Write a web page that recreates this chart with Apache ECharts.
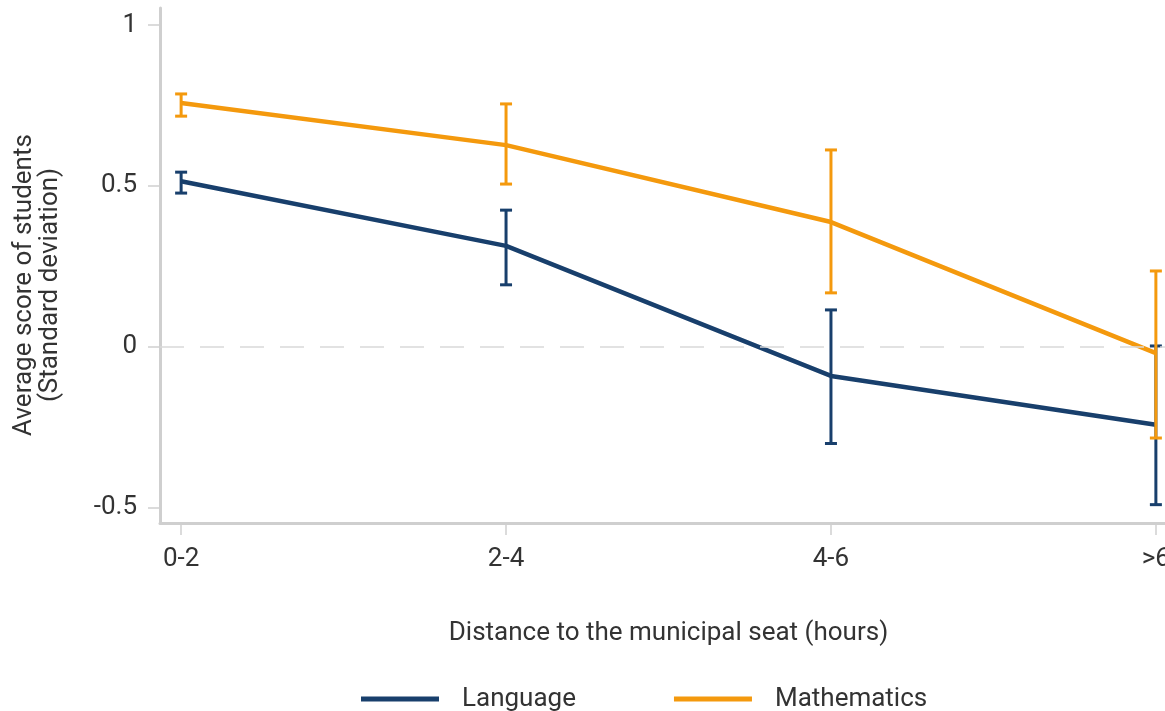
<!DOCTYPE html>
<html>
<head>
<meta charset="utf-8">
<script src="https://cdn.jsdelivr.net/npm/echarts@6/dist/echarts.min.js"></script>
<style>html,body{margin:0;padding:0;background:#fff;}#c{width:1165px;height:711px;}</style>
</head>
<body>
<div id="c"></div>
<script>
var categories = ['0-2', '2-4', '4-6', '>6'];
var languageMean = [0.515, 0.314, -0.09, -0.242];
var languageLow = [0.478, 0.193, -0.30, -0.49];
var languageHigh = [0.543, 0.425, 0.115, 0.003];
var mathMean = [0.758, 0.627, 0.388, -0.019];
var mathLow = [0.717, 0.506, 0.168, -0.283];
var mathHigh = [0.786, 0.755, 0.612, 0.236];
var yTicks = [-0.5, 0, 0.5, 1];

var navy = '#183f6c';
var orange = '#f4990d';
var font = 'Roboto';

function pts(vals) { return vals.map(function (v, i) { return [i, v]; }); }
function errs(lo, hi) { return lo.map(function (v, i) { return [i, v, hi[i]]; }); }

function errRender(color) {
  return function (params, api) {
    var x = api.value(0);
    var p1 = api.coord([x, api.value(1)]);
    var p2 = api.coord([x, api.value(2)]);
    var hw = 6;
    var st = { stroke: color, lineWidth: 3 };
    return {
      type: 'group',
      children: [
        { type: 'line', shape: { x1: p1[0], y1: p1[1], x2: p2[0], y2: p2[1] }, style: st },
        { type: 'line', shape: { x1: p1[0] - hw, y1: p1[1], x2: p1[0] + hw, y2: p1[1] }, style: st },
        { type: 'line', shape: { x1: p2[0] - hw, y1: p2[1], x2: p2[0] + hw, y2: p2[1] }, style: st }
      ]
    };
  };
}

var chart = echarts.init(document.getElementById('c'), null, { renderer: 'canvas' });
chart.setOption({
  animation: false,
  backgroundColor: '#fff',
  textStyle: { fontFamily: font },
  grid: { left: 160, top: 8, bottom: 188, width: 1017, containLabel: false, outerBoundsMode: 'none' },
  xAxis: {
    type: 'value',
    min: -0.065,
    max: 3.065,
    name: 'Distance to the municipal seat (hours)',
    nameLocation: 'middle',
    nameGap: 97,
    nameTextStyle: { fontFamily: font, fontSize: 26, color: '#333' },
    axisLine: { show: true, onZero: false, lineStyle: { color: '#cfcfcf', width: 3 } },
    axisTick: { show: true, length: 12, lineStyle: { color: '#cfcfcf', width: 1.5 }, customValues: [0, 1, 2, 3] },
    axisLabel: {
      margin: 23, fontFamily: font, fontSize: 26, color: '#333',
      customValues: [0, 1, 2, 3],
      formatter: function (v) { return categories[Math.round(v)]; }
    },
    splitLine: { show: false }
  },
  yAxis: {
    type: 'value',
    min: -0.547,
    max: 1.053,
    axisLine: { show: true, onZero: false, lineStyle: { color: '#cfcfcf', width: 3 } },
    axisTick: { show: true, length: 12, lineStyle: { color: '#cfcfcf', width: 1.5 }, customValues: yTicks },
    axisLabel: { margin: 23, fontFamily: font, fontSize: 26, color: '#333', customValues: yTicks },
    splitLine: { show: false }
  },
  graphic: [{
    type: 'text',
    x: 37,
    y: 285,
    rotation: Math.PI / 2,
    style: {
      text: 'Average score of students\n(Standard deviation)',
      fontFamily: font,
      fontSize: 26,
      lineHeight: 26,
      fill: '#333',
      align: 'center',
      verticalAlign: 'middle'
    }
  }],
  legend: {
    top: 681,
    left: 356,
    itemWidth: 78,
    itemHeight: 5,
    itemGap: 98,
    icon: 'rect',
    textStyle: { fontFamily: font, fontSize: 26, color: '#333', padding: [0, 0, 0, 18] },
    data: ['Language', 'Mathematics']
  },
  series: [
    {
      name: 'Language', type: 'line', data: pts(languageMean), symbol: 'none',
      lineStyle: { color: navy, width: 4.5 }, itemStyle: { color: navy },
      markLine: {
        silent: true, symbol: 'none', label: { show: false },
        lineStyle: { color: '#d9d9d9', type: [24, 16], width: 1.5 },
        data: [{ yAxis: 0 }]
      },
      z: 2
    },
    {
      name: 'Language', type: 'custom', data: errs(languageLow, languageHigh),
      renderItem: errRender(navy), itemStyle: { color: navy }, encode: { x: 0, y: [1, 2] }, z: 3
    },
    {
      name: 'Mathematics', type: 'line', data: pts(mathMean), symbol: 'none',
      lineStyle: { color: orange, width: 4.5 }, itemStyle: { color: orange }, z: 4
    },
    {
      name: 'Mathematics', type: 'custom', data: errs(mathLow, mathHigh),
      renderItem: errRender(orange), itemStyle: { color: orange }, encode: { x: 0, y: [1, 2] }, z: 5
    }
  ]
});
</script>
</body>
</html>
